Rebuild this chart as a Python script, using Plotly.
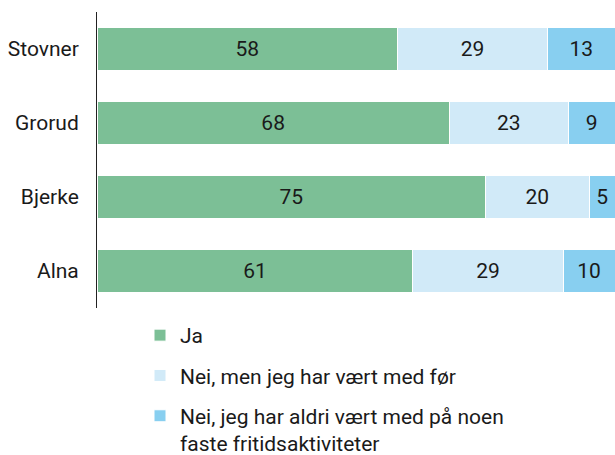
import plotly.graph_objects as go

categories = ["Stovner", "Grorud", "Bjerke", "Alna"]
ja = [58, 68, 75, 61]
nei_for = [29, 23, 20, 29]
nei_aldri = [13, 9, 5, 10]
series_names = ["Ja", "Nei, men jeg har vært med før",
                "Nei, jeg har aldri vært med på noen<br>faste fritidsaktiviteter"]
colors = ["#7cbf96", "#d1eaf8", "#88cff0"]

FONT = "Roboto, Inter, sans-serif"
fig = go.Figure()
for i, (name, vals) in enumerate(zip(series_names, [ja, nei_for, nei_aldri])):
    fig.add_trace(go.Bar(
        y=categories, x=vals, orientation="h", name=name,
        marker=dict(color=colors[i], line=dict(color="white", width=1)),
        text=[str(v) for v in vals], textposition="inside",
        insidetextanchor="middle",
        textfont=dict(family=FONT, size=21, color="#1a1a1a"),
        legendgroup=f"g{i}", hoverinfo="skip",
        constraintext="none",
    ))

fig.update_layout(
    width=615, height=455,
    margin=dict(l=97, r=0, t=12, b=147, autoexpand=False),
    barmode="stack", bargap=0.42,
    plot_bgcolor="white", paper_bgcolor="white",
    font=dict(family=FONT, size=21, color="#1a1a1a"),
    uniformtext=dict(minsize=10, mode="show"),
    xaxis=dict(range=[0, 100], visible=False, fixedrange=True),
    yaxis=dict(autorange="reversed", showline=True, linecolor="#222", linewidth=1,
               ticks="", ticklabelstandoff=13, showgrid=False, fixedrange=True,
               tickfont=dict(size=21)),
    showlegend=True,
    legend=dict(orientation="v", xref="paper", yref="paper",
                x=(140 - 97) / 518, y=(308 - 315) / 296, xanchor="left", yanchor="top",
                traceorder="grouped", tracegroupgap=10, valign="top",
                font=dict(size=21, family=FONT), itemwidth=30,
                bgcolor="rgba(0,0,0,0)"),
)
fig.write_html(
    "out.html",
    config={"displayModeBar": False, "staticPlot": True},
    post_script="document.body.style.margin='0';document.body.style.overflow='hidden';",
)
